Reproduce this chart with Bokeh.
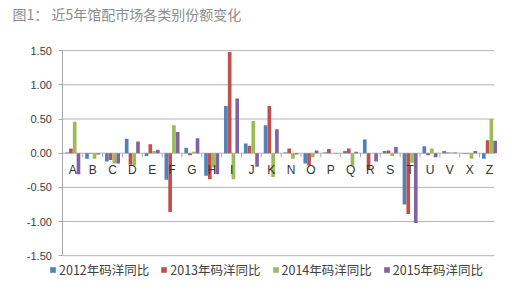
from bokeh.plotting import figure
from bokeh.models import (Range1d, ColumnDataSource, Legend, LegendItem, FixedTicker,
                          NumeralTickFormatter, LinearAxis)
from bokeh.transform import dodge
from bokeh.core.properties import value
from bokeh.embed import file_html
from bokeh.resources import INLINE

cats = ["A", "B", "C", "D", "E", "F", "G", "H", "I", "J", "K",
        "N", "O", "P", "Q", "R", "S", "T", "U", "V", "X", "Z"]
y2012 = [0.01, -0.08, -0.12, 0.21, -0.04, -0.39, 0.08, -0.33, 0.69, 0.14, 0.41,
         0.01, -0.15, 0.01, 0.03, 0.20, 0.03, -0.75, 0.10, 0.03, -0.01, -0.08]
y2013 = [0.07, -0.01, -0.10, -0.17, 0.13, -0.86, -0.03, -0.38, 1.48, 0.11, 0.69,
         0.07, -0.18, 0.06, 0.07, -0.23, 0.04, -0.89, -0.03, 0.01, -0.01, 0.19]
y2014 = [0.46, -0.08, -0.15, -0.18, 0.03, 0.41, 0.02, -0.21, -0.38, 0.47, -0.35,
         -0.08, -0.06, -0.01, -0.18, 0.00, -0.04, -0.14, 0.07, 0.01, -0.08, 0.50]
y2015 = [-0.31, -0.02, -0.15, 0.17, 0.05, 0.31, 0.22, -0.31, 0.80, -0.20, 0.35,
         -0.02, 0.04, -0.01, 0.02, -0.12, 0.09, -1.02, -0.06, 0.01, 0.03, 0.18]
series_names = ["2012年码洋同比", "2013年码洋同比", "2014年码洋同比", "2015年码洋同比"]
y_ticks = [-1.5, -1.0, -0.5, 0.0, 0.5, 1.0, 1.5]
colors = ["#4F81BD", "#C0504D", "#9BBB59", "#8064A2"]

n = len(cats)
xs = [i + 0.5 for i in range(n)]
src = ColumnDataSource(dict(x=xs, cat=cats, s0=y2012, s1=y2013, s2=y2014, s3=y2015))

p = figure(width=512, height=296, output_backend="svg", toolbar_location=None,
           x_range=Range1d(-3.145, 22.66), y_range=Range1d(-2.097, 1.868),
           x_axis_location=None, y_axis_location=None,
           min_border_left=0, min_border_right=0, min_border_top=24, min_border_bottom=0)
p.outline_line_color = None
p.xgrid.visible = False
p.ygrid.visible = False

# horizontal gridlines over the category span
grid_end = n - 0.25
p.segment(x0=[0] * len(y_ticks), y0=y_ticks, x1=[grid_end] * len(y_ticks), y1=y_ticks,
          line_color="#b4b4b4", line_width=1)

yaxis = LinearAxis(fixed_location=0, bounds=(y_ticks[0], y_ticks[-1]),
                   ticker=FixedTicker(ticks=y_ticks), formatter=NumeralTickFormatter(format="0.00"))
yaxis.axis_line_color = "#a8a8a8"
yaxis.major_tick_line_color = "#a8a8a8"
yaxis.major_tick_out = 4
yaxis.major_tick_in = 0
yaxis.minor_tick_line_color = None
yaxis.major_label_text_font = "Liberation Sans"
yaxis.major_label_text_font_size = "11px"
yaxis.major_label_text_color = "#404040"
yaxis.major_label_standoff = 7
p.add_layout(yaxis, "left")

p.title.text = "图1：  近5年馆配市场各类别份额变化"
p.title.text_font = "Noto Sans CJK SC"
p.title.text_font_size = "14px"
p.title.text_font_style = "normal"
p.title.text_color = "#8c8c8c"
p.title.align = "left"
p.title.offset = 12
p.title.standoff = 3

offsets = [-0.285, -0.095, 0.095, 0.285]
renderers = []
for k in range(4):
    r = p.vbar(x=dodge("x", offsets[k]), top="s%d" % k, bottom=0, width=0.185,
               source=src, fill_color=colors[k], line_color=None)
    renderers.append(r)

# small category ticks at the zero line
bounds = list(range(1, n))
p.segment(x0=bounds, y0=[0] * len(bounds), x1=bounds, y1=[-0.06] * len(bounds),
          line_color="#a8a8a8", line_width=1)

p.text(x="x", y=0, text="cat", source=src, text_align="center", text_baseline="middle",
       y_offset=17, text_font=value("Liberation Sans"), text_font_size="12px",
       text_color="#333333")

legend = Legend(items=[LegendItem(label=series_names[k], renderers=[renderers[k]]) for k in range(4)],
                orientation="horizontal", location=(49, 17),
                glyph_width=7, glyph_height=7, label_standoff=3, spacing=11,
                padding=0, margin=0, border_line_alpha=0, background_fill_alpha=0,
                label_text_font="Noto Sans CJK SC", label_text_font_size="12.5px",
                label_text_color="#404040")
p.add_layout(legend, "center")

open("out.html", "w").write(file_html(p, INLINE))
